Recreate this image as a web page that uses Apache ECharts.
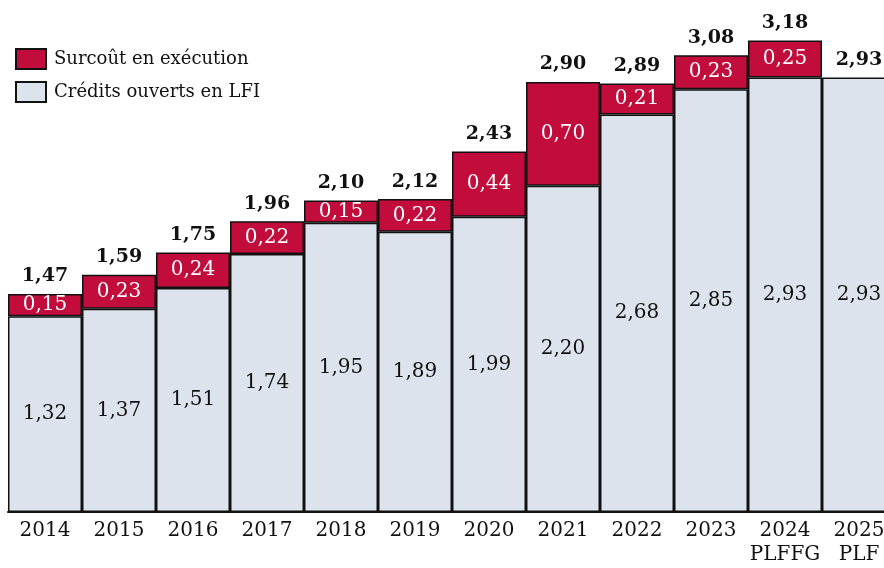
<!DOCTYPE html>
<html>
<head>
<meta charset="utf-8">
<script src="https://cdn.jsdelivr.net/npm/echarts@6/dist/echarts.min.js"></script>
<style>
  html, body { margin: 0; padding: 0; background: #fff; }
  #myChart { width: 884px; height: 568px; }
</style>
</head>
<body>
<div id="myChart"></div>
<script>
// années (axe x)
var years = ['2014', '2015', '2016', '2017', '2018', '2019', '2020', '2021', '2022', '2023', '2024\nPLFFG', '2025\nPLF'];
// crédits ouverts en LFI (Md€)
var credits = [1.32, 1.37, 1.51, 1.74, 1.95, 1.89, 1.99, 2.20, 2.68, 2.85, 2.93, 2.93];
// surcoût en exécution (Md€), pas de surcoût pour 2025
var surcout = [0.15, 0.23, 0.24, 0.22, 0.15, 0.22, 0.44, 0.70, 0.21, 0.23, 0.25, 0];
// totaux affichés au-dessus des barres
var totals = [1.47, 1.59, 1.75, 1.96, 2.10, 2.12, 2.43, 2.90, 2.89, 3.08, 3.18, 2.93];

var serif = 'DejaVu Serif';
function fr(v) { return v.toFixed(2).replace('.', ','); }

var Chart = echarts.init(document.getElementById('myChart'));
Chart.setOption({
  animation: false,
  textStyle: { fontFamily: serif },
  grid: { left: 8, width: 888, top: 30, bottom: 56, outerBoundsMode: 'none', containLabel: false },
  legend: {
    data: ['Surcoût en exécution', 'Crédits ouverts en LFI'],
    orient: 'vertical',
    left: 15,
    top: 48,
    padding: 0,
    itemWidth: 30,
    itemHeight: 20,
    itemGap: 11,
    icon: 'rect',
    textStyle: { fontFamily: serif, fontSize: 18, color: '#111', padding: [0, 0, 0, 3] }
  },
  xAxis: {
    type: 'category',
    data: years,
    axisLine: { lineStyle: { color: '#111', width: 2 } },
    axisTick: { show: false },
    axisLabel: { fontFamily: serif, fontSize: 20, color: '#111', margin: 7, lineHeight: 24, interval: 0 }
  },
  yAxis: {
    type: 'value',
    min: 0,
    max: 3.25,
    show: false,
    splitLine: { show: false }
  },
  series: [
    {
      name: 'Crédits ouverts en LFI',
      type: 'bar',
      stack: 'tot',
      barCategoryGap: '0%',
      data: credits,
      itemStyle: { color: '#dde3ed', borderColor: '#111', borderWidth: 1.5 },
      label: {
        show: true, position: 'inside', fontFamily: serif, fontSize: 20, color: '#111',
        formatter: function (p) { return fr(p.value); }
      }
    },
    {
      name: 'Surcoût en exécution',
      type: 'bar',
      stack: 'tot',
      data: surcout.map(function (v) {
        return v > 0 ? v : { value: 0, itemStyle: { borderWidth: 0 } };
      }),
      itemStyle: { color: '#c20c3b', borderColor: '#111', borderWidth: 1.5 },
      label: {
        show: true, position: 'inside', fontFamily: serif, fontSize: 20, color: '#fff',
        formatter: function (p) { return p.value > 0 ? fr(p.value) : ''; }
      }
    },
    {
      name: 'total',
      type: 'bar',
      stack: 'tot',
      data: totals.map(function () { return 0; }),
      itemStyle: { color: 'rgba(0,0,0,0)', borderWidth: 0 },
      label: {
        show: true, position: 'top', distance: 8, fontFamily: serif, fontSize: 19,
        fontWeight: 'bold', color: '#111',
        formatter: function (p) { return fr(totals[p.dataIndex]); }
      }
    }
  ]
}, true);
</script>
</body>
</html>
